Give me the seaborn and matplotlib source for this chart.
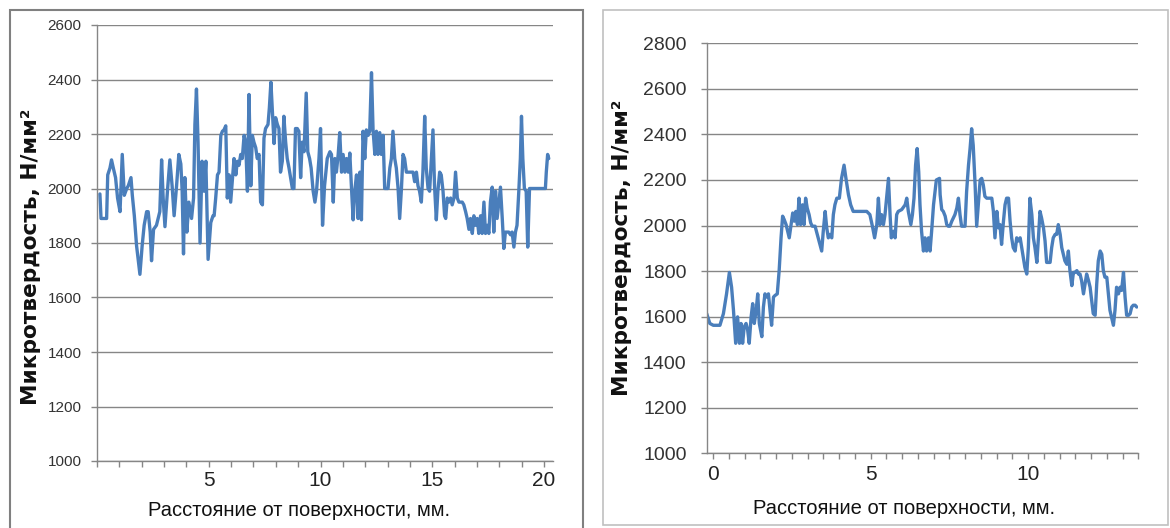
import matplotlib
matplotlib.use("Agg")
import matplotlib.pyplot as plt
from matplotlib.patches import Rectangle
from matplotlib.ticker import MultipleLocator
import seaborn as sns

# --- данные ---
left_x = [0.13, 0.18, 0.43, 0.48, 0.58, 0.65, 0.73, 0.83, 0.92, 1.03, 1.13, 1.22, 1.33, 1.40, 1.52,
          1.58, 1.67, 1.77, 1.92, 2.02, 2.11, 2.22, 2.29, 2.38, 2.44, 2.53, 2.66, 2.81, 2.89, 2.96,
          3.04, 3.16, 3.26, 3.36, 3.45, 3.56, 3.66, 3.75, 3.81, 3.87, 3.93, 4.02, 4.11, 4.23, 4.32,
          4.38, 4.45, 4.52, 4.61, 4.70, 4.79, 4.87, 4.97, 5.09, 5.19,
          5.24, 5.31, 5.39, 5.46, 5.54, 5.61, 5.68, 5.76, 5.83, 5.91, 5.98, 6.05, 6.13, 6.21, 6.28,
          6.35, 6.43, 6.50, 6.58, 6.65, 6.73, 6.80, 6.88, 6.95, 7.02, 7.10, 7.17, 7.25, 7.32, 7.40,
          7.47, 7.54, 7.65, 7.71, 7.78, 7.86, 7.92, 7.99, 8.07, 8.14, 8.21, 8.29, 8.36, 8.44, 8.51,
          8.59, 8.66, 8.74, 8.81, 8.88, 8.96, 9.03, 9.11, 9.18, 9.26, 9.36, 9.43, 9.51, 9.58, 9.67,
          9.75, 9.82, 9.93, 10.00, 10.09, 10.18, 10.30, 10.42,
          10.49, 10.57, 10.64, 10.71, 10.79, 10.86, 10.94, 11.01, 11.09, 11.16, 11.24, 11.31, 11.38,
          11.46, 11.53, 11.61, 11.68, 11.76, 11.83, 11.90, 11.98, 12.05, 12.13, 12.20, 12.28, 12.35,
          12.43, 12.50, 12.57, 12.65, 12.72, 12.80, 12.87, 12.95, 13.02, 13.10, 13.17, 13.24, 13.32,
          13.39, 13.47, 13.54, 13.62, 13.69, 13.76, 13.84, 13.91, 13.99, 14.14, 14.21, 14.29, 14.36,
          14.43, 14.51, 14.58, 14.66, 14.73, 14.81, 14.88, 14.96, 15.03, 15.10, 15.18, 15.25, 15.33,
          15.40, 15.48, 15.55,
          15.60, 15.67, 15.74, 15.82, 15.89, 15.97, 16.04, 16.12, 16.19, 16.26, 16.34, 16.41, 16.49,
          16.56, 16.64, 16.71, 16.79, 16.86, 16.93, 17.01, 17.08, 17.16, 17.23, 17.31, 17.38, 17.46,
          17.53, 17.60, 17.68, 17.75, 17.83, 17.90, 17.98, 18.05, 18.13, 18.20, 18.27, 18.35, 18.42,
          18.50, 18.57, 18.65, 18.72, 18.79, 18.87, 18.94, 18.99, 19.05, 19.12, 19.20, 19.27, 19.35,
          19.46, 19.61, 19.76, 19.91, 20.06, 20.10, 20.16, 20.21]
left_hv = [1980, 1890, 1890, 2050, 2075, 2105, 2075, 2040, 1965, 1915, 2125, 1975, 2000, 2010, 2040,
           1975, 1900, 1790, 1685, 1790, 1865, 1915, 1915, 1840, 1735, 1850, 1865, 1915, 2105, 1965,
           1860, 2000, 2105, 2010, 1900, 2010, 2125, 2090, 1990, 1760, 2040, 1840, 1950, 1890, 1965,
           2235, 2365, 2170, 1800, 2100, 1990, 2100, 1740, 1875, 1900,
           1900, 1965, 2050, 2060, 2195, 2210, 2215, 2230, 1965, 2050, 1950, 2025, 2110, 2050, 2100,
           2085, 2125, 2110, 2195, 2170, 1990, 2345, 2010, 2195, 2170, 2150, 2110, 2125, 1950, 1940,
           2185, 2220, 2235, 2295, 2390, 2260, 2165, 2260, 2235, 2220, 2060, 2100, 2265, 2170, 2110,
           2075, 2040, 2000, 2000, 2220, 2220, 2210, 2040, 2170, 2135, 2350, 2135, 2110, 2075, 1990,
           1950, 1990, 2110, 2220, 1865, 2010, 2110, 2135,
           2125, 1950, 2110, 2060, 2125, 2205, 2060, 2125, 2060, 2110, 2060, 2130, 2010,
           1885, 1990, 2050, 1890, 2060, 1885, 2210, 2110, 2215, 2195, 2210, 2425, 2215,
           2125, 2210, 2125, 2205, 2125, 2195, 2000, 2000, 2000, 2075, 2110, 2210, 2110,
           2075, 2000, 1890, 2000, 2125, 2110, 2060, 2060, 2060, 2060, 2025, 2060, 2010,
           1990, 1950, 2060, 2265, 2075, 2000, 1990, 2110, 2215, 2010, 1885, 1990, 2060,
           2050, 1990, 1900,
           1890, 1965, 1950, 1965, 1940, 1965, 2060, 1965, 1950, 1950, 1950, 1940, 1915,
           1890, 1850, 1890, 1835, 1900, 1865, 1890, 1835, 1900, 1835, 1950, 1835, 1865,
           1835, 1950, 2005, 1840, 1990, 1890, 1950, 2005, 1890, 1780, 1840, 1840, 1840,
           1830, 1840, 1785, 1840, 1865, 1990, 2110, 2265, 2110, 2000, 1990, 1785, 2000,
           2000, 2000, 2000, 2000, 2000, 2060, 2125, 2110]

right_x = [-0.20, -0.10, 0.01, 0.12, 0.22, 0.33, 0.43, 0.52, 0.59, 0.65, 0.72, 0.78, 0.84, 0.89, 0.94,
           0.99, 1.05, 1.10, 1.15, 1.21, 1.26, 1.31, 1.37, 1.42, 1.47, 1.55, 1.60, 1.65, 1.70, 1.76,
           1.81, 1.86, 1.92, 1.97, 2.04, 2.10, 2.16, 2.21, 2.26, 2.32, 2.37, 2.42, 2.48, 2.53, 2.58,
           2.63, 2.68, 2.73, 2.78, 2.84, 2.89, 2.94, 2.99, 3.05, 3.10, 3.15, 3.24, 3.31, 3.38, 3.45,
           3.50, 3.56, 3.61, 3.66, 3.71, 3.77, 3.82, 3.87, 3.93, 4.01, 4.08, 4.16, 4.22, 4.30, 4.37,
           4.45, 4.56, 4.67, 4.77, 4.88, 4.98, 5.07, 5.13, 5.20, 5.25, 5.30, 5.35, 5.41, 5.46, 5.51,
           5.57, 5.62, 5.66, 5.73, 5.78, 5.83, 5.88, 5.99, 6.10, 6.15, 6.20, 6.28, 6.33, 6.38, 6.43,
           6.48, 6.53, 6.57, 6.62, 6.68, 6.73, 6.78, 6.84, 6.89, 6.94, 7.00, 7.09, 7.19,
           7.21, 7.26, 7.31, 7.37, 7.42, 7.47, 7.52, 7.58, 7.63, 7.68, 7.74, 7.79, 7.84, 7.89, 7.95,
           8.00, 8.05, 8.11, 8.16, 8.21, 8.26, 8.32, 8.37, 8.42, 8.48, 8.53, 8.58, 8.63, 8.69, 8.74,
           8.79, 8.85, 8.90, 8.95, 9.01, 9.06, 9.11, 9.16, 9.22, 9.27, 9.32, 9.38, 9.43, 9.48, 9.53,
           9.59, 9.64, 9.69, 9.75, 9.80, 9.85, 9.90, 9.96, 10.01, 10.06, 10.12, 10.17, 10.22, 10.28,
           10.33, 10.38, 10.43, 10.49, 10.54, 10.59, 10.65, 10.70, 10.75, 10.80, 10.86, 10.91, 10.96,
           11.02, 11.07, 11.12, 11.17, 11.23, 11.28, 11.33, 11.39, 11.44, 11.49, 11.55, 11.60, 11.65,
           11.70, 11.76, 11.81, 11.86, 11.92, 11.97, 12.02, 12.07, 12.13, 12.18, 12.23, 12.29, 12.34,
           12.39, 12.44, 12.50, 12.55, 12.60, 12.66, 12.71, 12.76, 12.81, 12.87, 12.92, 12.97, 13.03,
           13.08, 13.13, 13.19, 13.24, 13.29, 13.34, 13.40, 13.45]
right_hv = [1613, 1570, 1562, 1562, 1562, 1613, 1700, 1794, 1729, 1628, 1483, 1599, 1483, 1570, 1483,
            1555, 1570, 1541, 1483, 1599, 1657, 1570, 1628, 1700, 1570, 1512, 1642, 1700, 1686, 1700,
            1628, 1562, 1686, 1693, 1700, 1802, 1946, 2041, 2026, 2004, 1975, 1946, 2004, 2055, 2019,
            2062, 2004, 2120, 2004, 2091, 2004, 2120, 2077, 2048, 2012, 1997, 1997, 1961, 1925, 1888,
            1975, 2062, 1990, 1946, 1961, 1946, 2048, 2091, 2120, 2120, 2207, 2265, 2207, 2135, 2091,
            2062, 2062, 2062, 2062, 2062, 2048, 1990, 1946, 2004, 2120, 2004, 2048, 2004, 2048, 2120,
            2207, 2048, 1946, 1975, 1946, 2048, 2062, 2070, 2091, 2120, 2062, 2004, 2048, 2120, 2265,
            2338, 2236, 2091, 1975, 1888, 1946, 1888, 1946, 1888, 1975, 2091, 2200, 2207,
            2135, 2070, 2062, 2041, 2004, 1997, 1997, 2019, 2033, 2048, 2077, 2120, 2048, 1997, 1997,
            1997, 2149, 2265, 2338, 2425, 2352, 2178, 1997, 2091, 2200, 2207, 2178, 2128, 2120, 2120,
            2120, 2120, 2062, 1946, 2062, 1990, 2004, 1917, 2019, 2091, 2120, 2120, 2019, 1946, 1903,
            1888, 1946, 1932, 1946, 1903, 1859, 1816, 1787, 1903, 2120, 2048, 1946, 1903, 1838,
            1946, 2062, 2033, 1990, 1932, 1838, 1838, 1838, 1903, 1946, 1961, 1961, 2004,
            1961, 1903, 1874, 1845, 1830, 1888, 1802, 1736, 1794, 1794, 1802, 1787, 1787,
            1758, 1700, 1743, 1787, 1758, 1729, 1671, 1613, 1606, 1743, 1845, 1888, 1874,
            1802, 1773, 1773, 1700, 1628, 1591, 1562, 1628, 1729, 1700, 1729, 1715, 1794,
            1686, 1606, 1606, 1613, 1642, 1650, 1650, 1642]

xlabel = "Расстояние от поверхности, мм."
ylabel = "Микротвердость, Н/мм²"
line_color = "#4a7ebb"
grid_color = "#868686"

sns.set_theme(style="white")
plt.rcParams["font.family"] = ["Liberation Sans", "DejaVu Sans"]

W, H = 1170, 528
fig = plt.figure(figsize=(W / 100, H / 100), dpi=100)
fig.patch.set_facecolor("white")

# рамки вокруг двух диаграмм
fig.patches.append(Rectangle((10 / W, -0.02), 573 / W, 1 - 10 / H + 0.02, transform=fig.transFigure,
                             fill=False, edgecolor="#808080", lw=1.5))
fig.patches.append(Rectangle((603 / W, 3 / H), 565 / W, 515 / H, transform=fig.transFigure,
                             fill=False, edgecolor="#c0c0c0", lw=1.2))

axL = fig.add_axes([97 / W, (H - 461) / H, 456 / W, 436 / H])
axR = fig.add_axes([706.7 / W, (H - 453.3) / H, 431.6 / W, 410 / H])


def style(ax, ylim, xlim, major, minor, yfs, ypad, xpad):
    ax.set_ylim(*ylim)
    ax.set_xlim(*xlim)
    ax.yaxis.set_major_locator(MultipleLocator(200))
    ax.xaxis.set_major_locator(MultipleLocator(major))
    ax.xaxis.set_minor_locator(MultipleLocator(minor))
    ax.grid(axis="y", color=grid_color, lw=1)
    ax.grid(axis="x", visible=False)
    ax.set_axisbelow(True)
    for s in ["top", "right"]:
        ax.spines[s].set_visible(False)
    for s in ["left", "bottom"]:
        ax.spines[s].set_color(grid_color)
        ax.spines[s].set_linewidth(1)
    ax.tick_params(axis="x", which="both", bottom=True, direction="out", length=4.5,
                   color=grid_color, width=1, pad=xpad, labelsize=15, labelcolor="#222222")
    ax.tick_params(axis="y", left=True, direction="out", length=4.5, color=grid_color, width=1,
                   pad=ypad, labelsize=yfs, labelcolor="#333333")
    ax.set_xlabel(xlabel, fontsize=14.5, color="#111111")
    ax.set_ylabel(ylabel, fontsize=15.6, fontweight="bold", color="#111111",
                  family=["DejaVu Sans"])


sns.lineplot(x=left_x, y=left_hv, ax=axL, color=line_color, lw=2.4, sort=False)
sns.lineplot(x=right_x, y=right_hv, ax=axR, color=line_color, lw=2.4, sort=False)

style(axL, (1000, 2600), (0, 20.4), 5, 1, 11, 6.5, 3)
axL.set_xticks([5, 10, 15, 20])
style(axR, (1000, 2800), (-0.2, 13.5), 5, 0.5, 14, 10, 4)

axL.xaxis.set_label_coords(0.444, -0.092)
axL.yaxis.set_label_coords(-0.123, 0.468)
axR.xaxis.set_label_coords(0.457, -0.111)
axR.yaxis.set_label_coords(-0.173, 0.50)

fig.savefig("out.png", dpi=100)
